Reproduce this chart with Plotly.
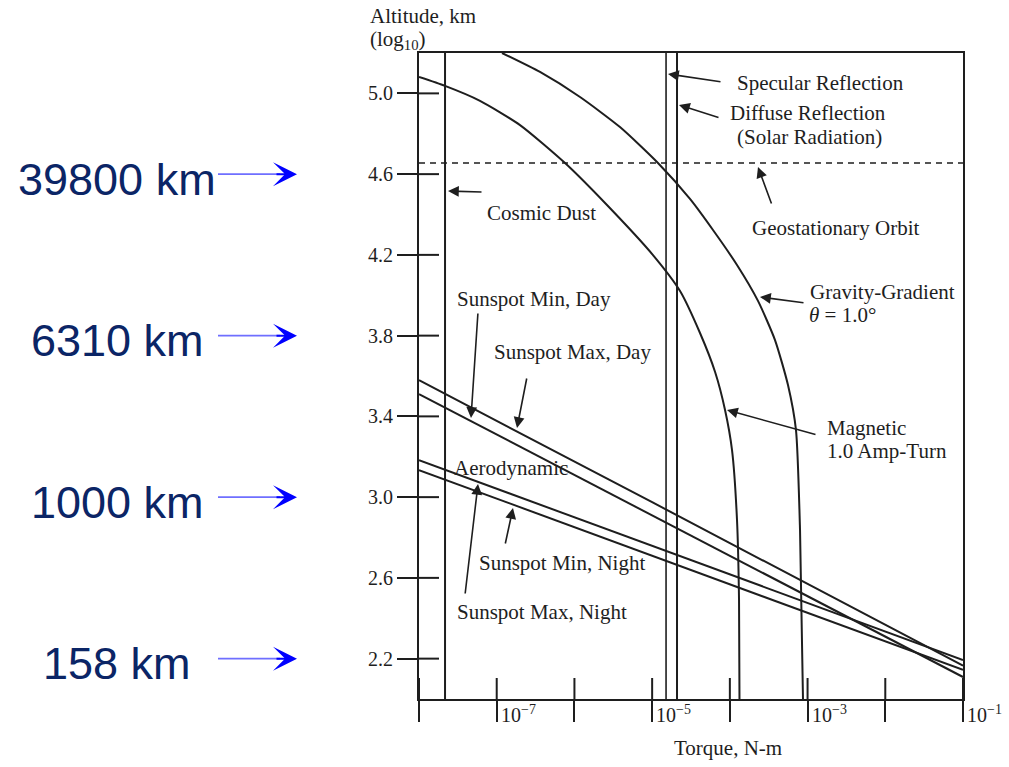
import numpy as np
import plotly.graph_objects as go

# ---------------- data ----------------
torque_decades = [-8, -7, -6, -5, -4, -3, -2, -1]
torque_tick_labels = ["", "10<sup>−7</sup>", "", "10<sup>−5</sup>", "", "10<sup>−3</sup>", "", "10<sup>−1</sup>"]
alt_ticks = [2.2, 2.6, 3.0, 3.4, 3.8, 4.2, 4.6, 5.0]

# Magnetic, 1.0 Amp-Turn   (log10 torque, log10 altitude)
magnetic_log_torque = [-8.000, -7.665, -7.215, -6.700, -6.121, -5.581, -4.989, -4.641, -4.384,
                       -4.190, -4.062, -3.972, -3.908, -3.882, -3.876]
magnetic_log_alt = [5.081, 5.037, 4.963, 4.843, 4.655, 4.447, 4.199, 4.021, 3.813,
                    3.620, 3.432, 3.233, 2.887, 2.490, 2.0]

# Gravity-Gradient, theta = 1.0 deg
gravity_log_torque = [-6.932, -6.443, -5.928, -5.414, -4.925, -4.513, -4.217, -3.908, -3.638,
                      -3.419, -3.252, -3.149, -3.097, -3.059]
gravity_log_alt = [5.200, 5.106, 4.982, 4.833, 4.655, 4.477, 4.323, 4.150, 3.972,
                   3.778, 3.555, 3.332, 2.837, 2.0]

# Aerodynamic lines
aero_log_torque = [-8, -5, -1]
sunspot_max_day = [3.579, 2.975, 2.165]
sunspot_min_day = [3.510, 2.911, 2.109]
sunspot_max_night = [3.183, 2.760, 2.193]
sunspot_min_night = [3.134, 2.710, 2.144]

cosmic_dust_log_torque = -7.665
specular_log_torque = -4.821
diffuse_log_torque = -4.680
geostationary_log_alt = 4.655

km_labels = ["39800 km", "6310 km", "1000 km", "158 km"]
km_label_log_alt = [4.6, 3.8, 3.0, 2.2]

# ---------------- layout geometry ----------------
W, H = 1009, 767
L, R, T, B = 419, 46, 53, 68
PW, PH = W - L - R, H - T - B
X0, X1 = -8, -1
Y0, Y1 = 2.0, 5.2


def px_x(px):
    return (px - L) / PW


def px_y(py):
    return (H - B - py) / PH


INK = "#1e1e1e"
SERIF = "Liberation Serif, Times New Roman, serif"
LW = 2

fig = go.Figure()


def add_line(xs_log, ys, dash=None, width=LW, shape="linear"):
    fig.add_trace(go.Scatter(
        x=np.power(10.0, np.array(xs_log, dtype=float)), y=ys, mode="lines",
        line=dict(color=INK, width=width, dash=dash, shape=shape, smoothing=0.6),
        showlegend=False, hoverinfo="skip"))


# vertical lines
add_line([cosmic_dust_log_torque] * 2, [Y0, Y1])
add_line([specular_log_torque] * 2, [Y0, Y1], width=1.6)
add_line([diffuse_log_torque] * 2, [Y0, Y1])
# geostationary orbit (dashed)
add_line([X0, X1], [geostationary_log_alt] * 2, dash="6px,5px", width=1.7)
# curves
add_line(magnetic_log_torque, magnetic_log_alt, shape="spline")
add_line(gravity_log_torque, gravity_log_alt, shape="spline")
# aerodynamic lines
for ys in (sunspot_max_day, sunspot_min_day, sunspot_max_night, sunspot_min_night):
    add_line(aero_log_torque, ys)

shapes = []
# inner halves of the y ticks
for v in alt_ticks:
    shapes.append(dict(type="line", xref="paper", yref="y", x0=0, x1=20 / PW, y0=v, y1=v,
                       line=dict(color=INK, width=LW)))
# inner halves of the x ticks
for k in torque_decades:
    xp = (k - X0) / (X1 - X0)
    shapes.append(dict(type="line", xref="paper", yref="paper", x0=xp, x1=xp, y0=0, y1=21 / PH,
                       line=dict(color=INK, width=LW)))

annotations = []
# x tick labels
for k, lab in zip(torque_decades, torque_tick_labels):
    if lab:
        annotations.append(dict(xref="paper", yref="paper", x=(k - X0) / (X1 - X0), y=px_y(714),
                                xanchor="left", yanchor="middle", xshift=2, text=lab, showarrow=False,
                                font=dict(family=SERIF, size=20, color=INK)))

# text labels (left x px, center y px, text)
texts = [
    (735, 83, "Specular Reflection"),
    (728, 113, "Diffuse Reflection"),
    (735, 137, "(Solar Radiation)"),
    (750, 228, "Geostationary Orbit"),
    (485, 213, "Cosmic Dust"),
    (808, 292, "Gravity-Gradient"),
    (807, 315, "<i>θ</i> = 1.0°"),
    (825, 428, "Magnetic"),
    (825, 451, "1.0 Amp-Turn"),
    (455, 299, "Sunspot Min, Day"),
    (492, 352, "Sunspot Max, Day"),
    (452, 468, "Aerodynamic"),
    (477, 563, "Sunspot Min, Night"),
    (455, 612, "Sunspot Max, Night"),
    (368, 16, "Altitude, km"),
    (368, 40, "(log<sub>10</sub>)"),
    (672, 748, "Torque, N-m"),
]
for x, y, t in texts:
    annotations.append(dict(xref="paper", yref="paper", x=px_x(x), y=px_y(y), xanchor="left",
                            yanchor="middle", text=t, showarrow=False,
                            font=dict(family=SERIF, size=21, color=INK)))

# pointer arrows (tip px, tail px)
arrows = [
    ((668, 74), (722, 82)),
    ((679, 105), (720, 118)),
    ((758, 167), (772, 205)),
    ((448, 191), (483, 192)),
    ((760, 297), (805, 303)),
    ((727, 410), (817, 435)),
    ((471, 418), (478, 312)),
    ((517, 428), (527, 377)),
    ((513, 508), (505, 545)),
    ((478, 484), (465, 595)),
]
for (tx, ty), (sx, sy) in arrows:
    annotations.append(dict(xref="paper", yref="paper", x=px_x(tx), y=px_y(ty), ax=sx - tx, ay=sy - ty,
                            axref="pixel", ayref="pixel", text="", showarrow=True, arrowhead=2,
                            arrowsize=1.35, arrowwidth=1.6, arrowcolor=INK))

# blue altitude labels with arrows
for lab, v in zip(km_labels, km_label_log_alt):
    annotations.append(dict(xref="paper", yref="y", x=px_x(117), y=v, yshift=-5, xanchor="center",
                            yanchor="middle", text=lab, showarrow=False,
                            font=dict(family="Liberation Sans, Arial, sans-serif", size=45, color="#0b2566")))
    shapes.append(dict(type="line", xref="paper", yref="y", x0=px_x(218), x1=px_x(280), y0=v, y1=v,
                       line=dict(color="#6f6fff", width=1.6)))
    annotations.append(dict(xref="paper", yref="y", x=px_x(297), y=v, ax=-22, ay=0, text="",
                            showarrow=True, arrowhead=3, arrowsize=2, arrowwidth=2, arrowcolor="#0000ff"))

fig.update_layout(
    width=W, height=H, autosize=False,
    margin=dict(l=L, r=R, t=T, b=B, pad=0),
    paper_bgcolor="white", plot_bgcolor="white",
    showlegend=False,
    xaxis=dict(type="log", range=[X0, X1], tickvals=[10.0 ** k for k in torque_decades],
               ticktext=[""] * len(torque_decades), ticks="outside", ticklen=21, tickwidth=LW,
               tickcolor=INK, showline=True, linewidth=LW, linecolor=INK, mirror=True,
               showgrid=False, zeroline=False, fixedrange=True),
    yaxis=dict(range=[Y0, Y1], tickvals=alt_ticks, ticktext=[f"{v:.1f}" for v in alt_ticks],
               ticks="outside", ticklen=20, tickwidth=LW, tickcolor=INK, showline=True,
               linewidth=LW, linecolor=INK, mirror=True, showgrid=False, zeroline=False,
               tickfont=dict(family=SERIF, size=20, color=INK), fixedrange=True),
    shapes=shapes,
    annotations=annotations,
)

fig.write_html("out.html", config={"displayModeBar": False},
               post_script="document.body.style.margin='0px';document.body.style.overflow='hidden';")
